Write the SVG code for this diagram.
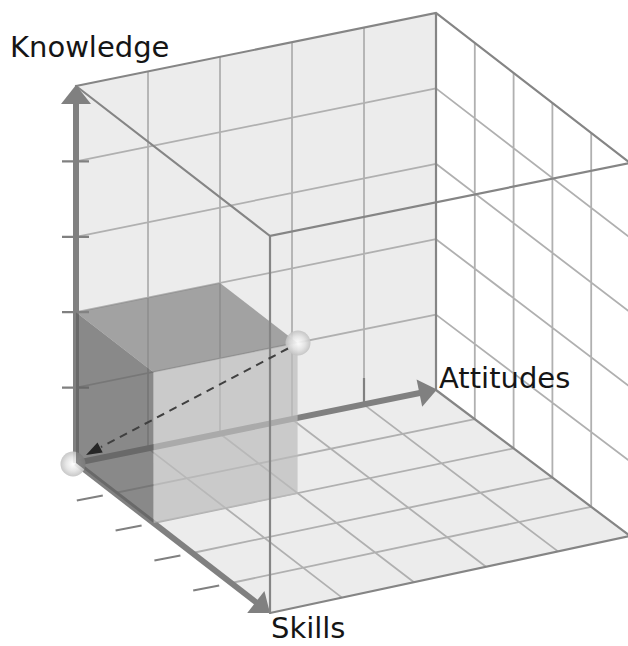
<svg xmlns="http://www.w3.org/2000/svg" width="628" height="646" viewBox="0 0 628 646">
<defs>
<style>
.wall{fill:#ececec;stroke:none}
.grid{stroke:#b0b0b0;stroke-width:1.8;fill:none}
.edge{stroke:#858585;stroke-width:2.2;fill:none;stroke-linecap:round}
.axis{stroke:#808080;stroke-width:6;fill:none}
.head{fill:#808080}
.tick{stroke:#808080;stroke-width:2.2}
.lbl{font-family:"DejaVu Sans","Liberation Sans",sans-serif;font-size:29px;fill:#151515}
.sph{fill:url(#sg)}
</style>
<radialGradient id="sg" cx="0.5" cy="0.5" r="0.5">
<stop offset="0" stop-color="#ffffff"/>
<stop offset="0.55" stop-color="#e4e4e4"/>
<stop offset="1" stop-color="#c2c2c2"/>
</radialGradient>
</defs>
<rect width="628" height="646" fill="#ffffff"/>

<g id="back-wall">
<polygon class="wall" points="76,463 436,390 436,13 76,86"/>
<path class="grid" d="M148,448.4V71.4M220,433.8V56.8M292,419.2V42.2M364,404.6V27.6M76,387.6L436,314.6M76,312.2L436,239.2M76,236.8L436,163.8M76,161.4L436,88.4"/>
</g>

<g id="floor">
<polygon class="wall" points="76,463 436,390 630,536 270,613"/>
<path class="grid" d="M148,448.4L342,597.6M220,433.8L414,582.2M292,419.2L486,566.8M364,404.6L558,551.4M114.8,493L474.8,419.2M153.6,523L513.6,448.4M192.4,553L552.4,477.6M231.2,583L591.2,506.8"/>
</g>

<g id="right-wall">
<path class="grid" d="M474.8,43V419.2M513.6,73V448.4M552.4,103V477.6M591.2,133V506.8M436,314.6L630,461.4M436,239.2L630,386.8M436,163.8L630,312.2M436,88.4L630,237.6"/>
</g>

<g id="box-back-edges">
<path class="edge" d="M436,390V13M76,86L436,13L630,163M76,86L270,236M436,390L630,536M270,613L630,536"/>
</g>

<g id="axis-knowledge">
<line class="axis" x1="76" y1="463" x2="76" y2="100"/>
<polygon class="head" points="76,85 61,104 91,104"/>
<path class="tick" d="M62,161.4H89M62,236.8H89M62,312.2H89M62,387.6H89"/>
</g>
<g id="axis-attitudes">
<line class="axis" x1="76" y1="463" x2="421" y2="392.8"/>
<polygon class="head" points="437,389.5 422.2,406.8 416.6,379.4"/>
<path class="tick" d="M364,404.6V378"/>
</g>
<g id="axis-skills">
<line class="axis" x1="76" y1="463" x2="257" y2="603"/>
<polygon class="head" points="270,613 247.2,613.1 264.4,590.9"/>
<path class="tick" d="M76.8,500.5L102.8,495.5M115.6,530.5L141.6,525.5M154.4,560.5L180.4,555.5M193.2,590.5L219.2,585.5"/>
</g>

<g id="origin-point">
<circle class="sph" cx="73" cy="464" r="12.5" opacity="0.9"/>
</g>

<g id="cube">
<polygon points="76,463 153.6,523 153.6,372.2 76,312.2" fill="#606060" fill-opacity="0.7"/>
<polygon points="76,312.2 220,283 297.6,343 153.6,372.2" fill="#838383" fill-opacity="0.7"/>
<polygon points="153.6,523 297.6,493.8 297.6,343 153.6,372.2" fill="#bcbcbc" fill-opacity="0.7"/>
</g>

<g id="box-front-edges">
<path class="edge" d="M270,613V236L630,163"/>
</g>

<g id="corner-point">
<circle class="sph" cx="298" cy="343" r="12.5" opacity="0.9"/>
</g>

<g id="connectors">
<line x1="288" y1="348.5" x2="101" y2="447" stroke="#404040" stroke-width="2" stroke-dasharray="8,6"/>
<polygon points="86,455 102.7,452.4 97.5,442.6" fill="#262626"/>
</g>

<g id="labels">
<text class="lbl" x="10" y="57">Knowledge</text>
<text class="lbl" x="439" y="388">Attitudes</text>
<text class="lbl" x="271" y="638">Skills</text>
</g>
</svg>
